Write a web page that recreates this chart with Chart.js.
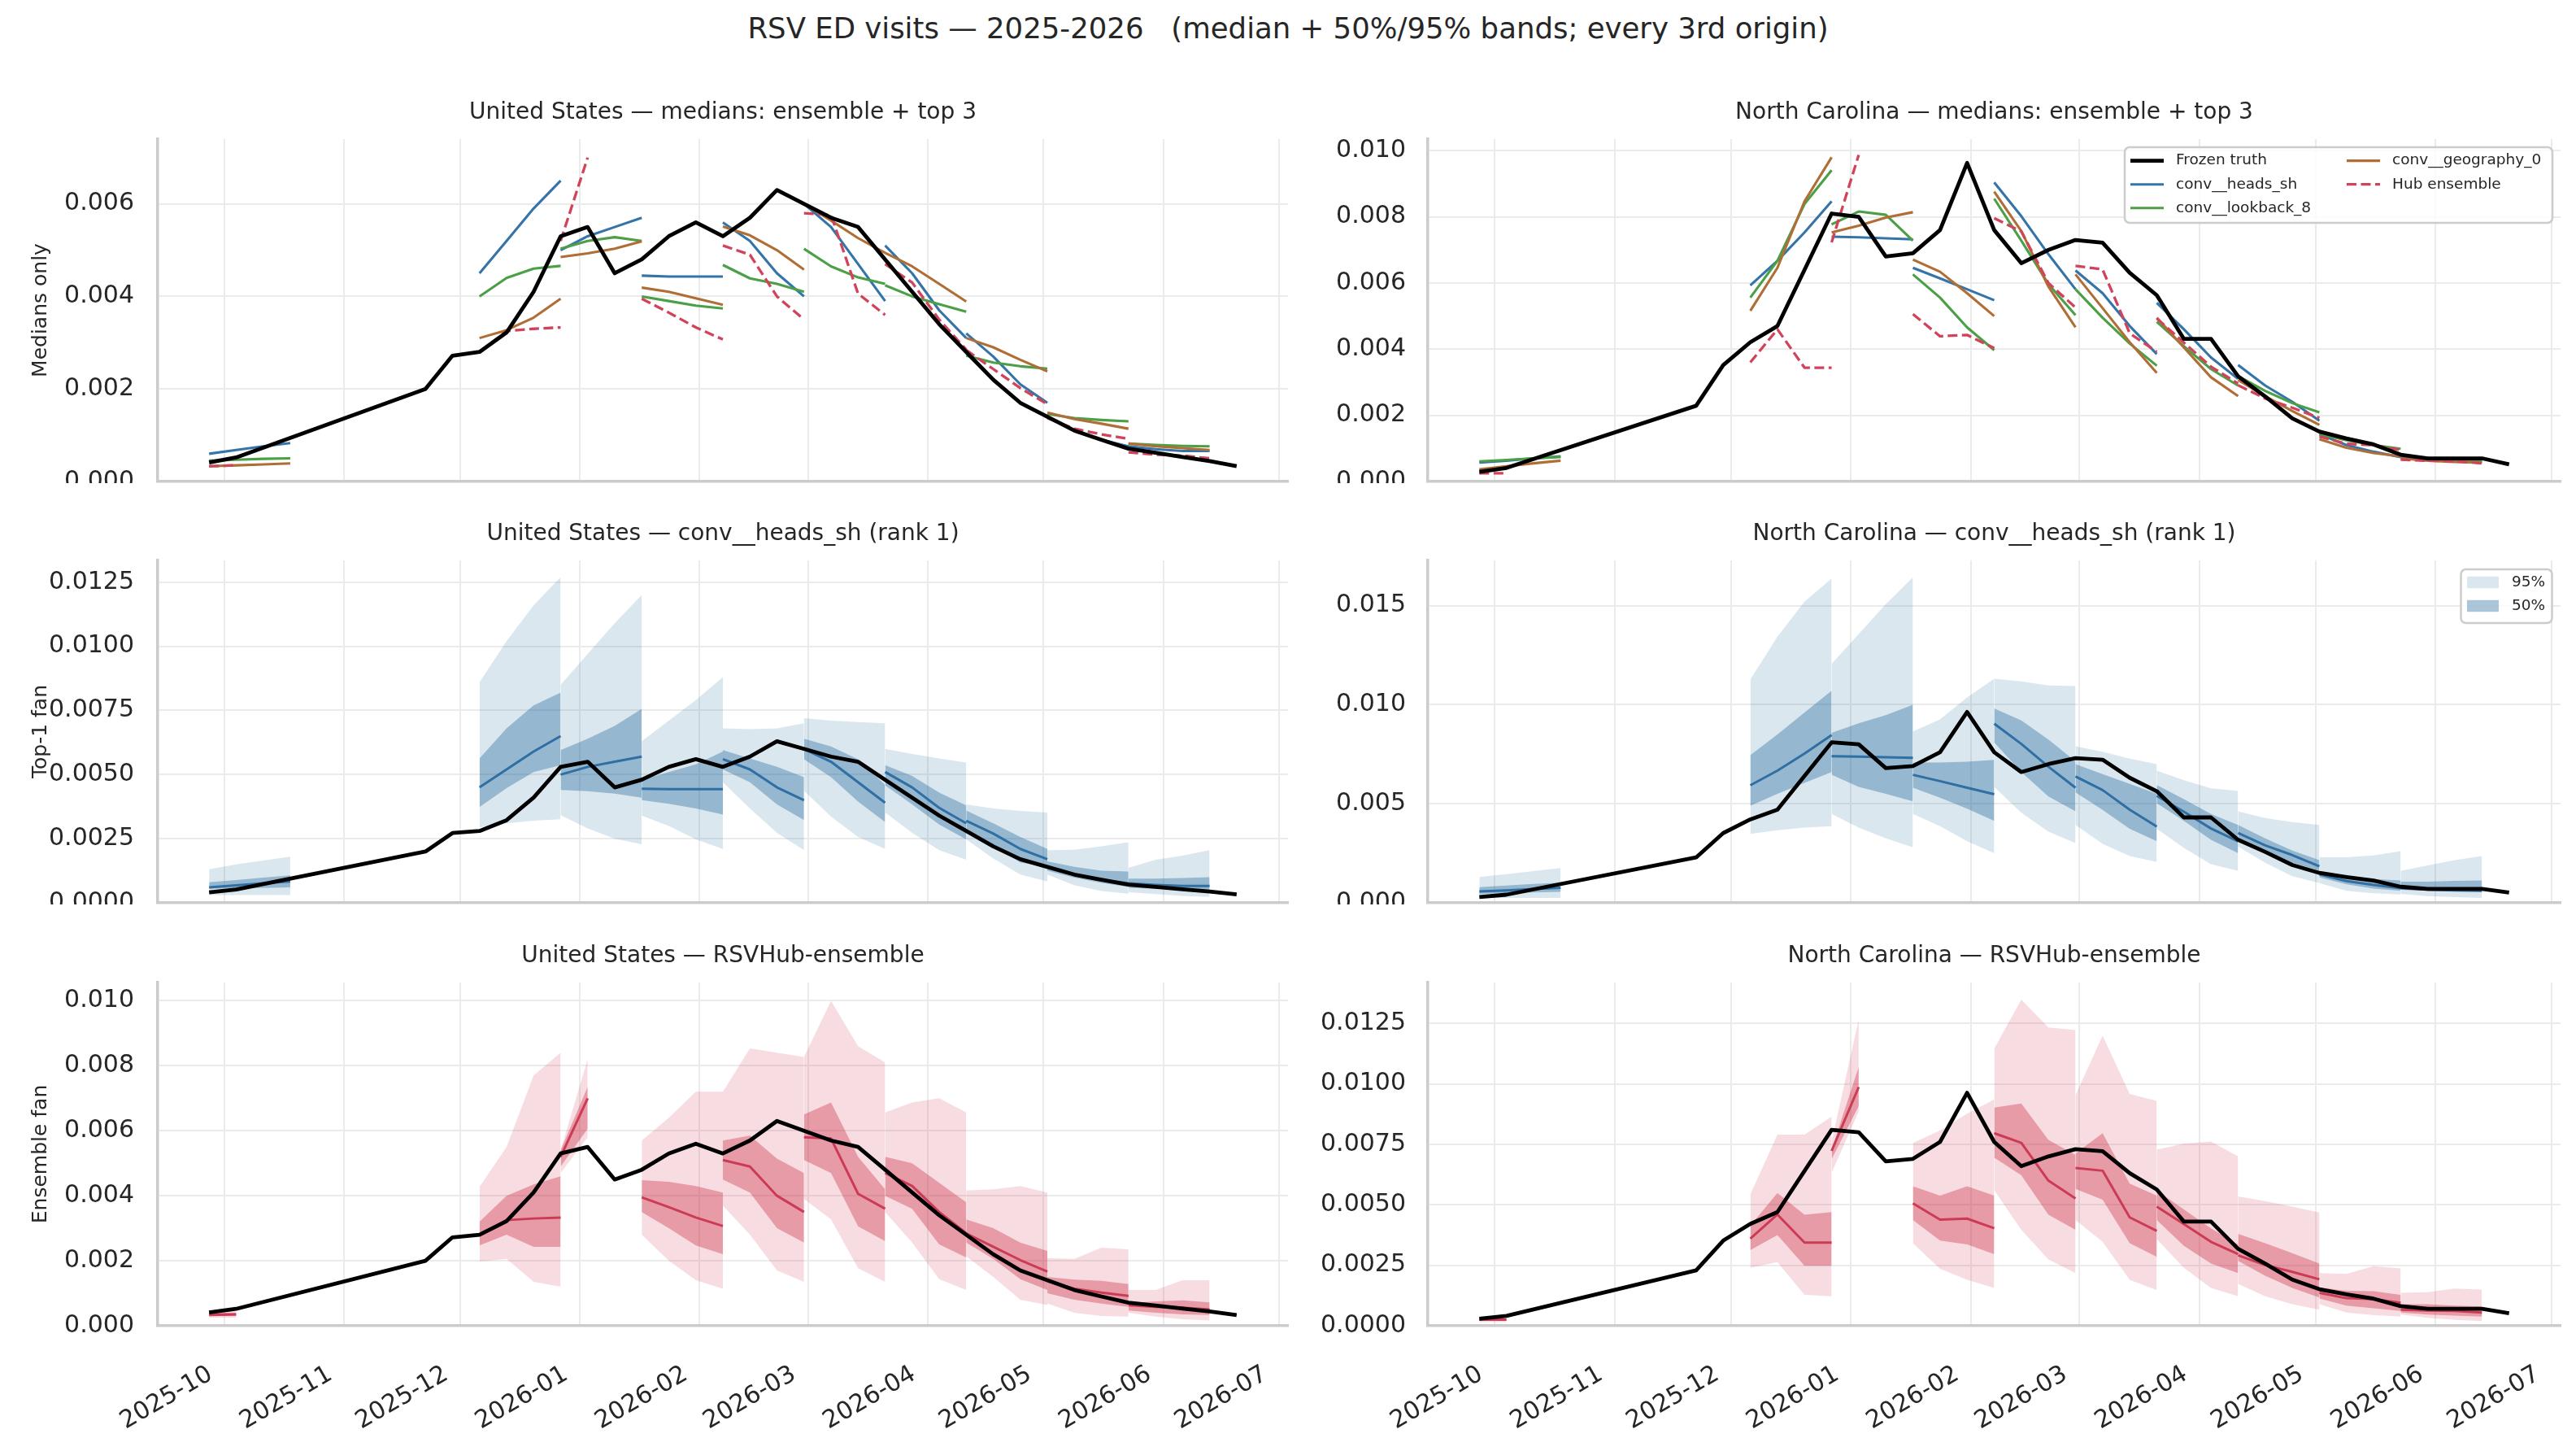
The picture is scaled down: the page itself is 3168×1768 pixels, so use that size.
<!DOCTYPE html>
<html>
<head>
<meta charset="utf-8">
<title>RSV ED visits</title>
<script src="https://cdn.jsdelivr.net/npm/chart.js@4.4.1/dist/chart.umd.min.js"></script>
<style>
  html, body { margin: 0; padding: 0; background: #fff; }
  #page { position: relative; width: 3168px; height: 1768px; overflow: hidden; background: #fff; }
  #page canvas { position: absolute; }
  #suptitle {
    position: absolute; left: 0; top: 14px; width: 3168px; text-align: center;
    font-family: "DejaVu Sans", sans-serif; font-size: 35.5px; line-height: 42px;
    color: #262626; white-space: pre;
  }
</style>
</head>
<body>
<div id="page">
  <div id="suptitle">RSV ED visits — 2025-2026   (median + 50%/95% bands; every 3rd origin)</div>
</div>
<script>
// ---- data ----
const monthTicks = ['2025-10', '2025-11', '2025-12', '2026-01', '2026-02', '2026-03', '2026-04', '2026-05', '2026-06', '2026-07'];

const truthDates = ['2025-09-27', '2025-10-04', '2025-11-22', '2025-11-29', '2025-12-06', '2025-12-13', '2025-12-20',
  '2025-12-27', '2026-01-03', '2026-01-10', '2026-01-17', '2026-01-24', '2026-01-31', '2026-02-07', '2026-02-14',
  '2026-02-21', '2026-02-28', '2026-03-07', '2026-03-14', '2026-03-21', '2026-03-28', '2026-04-04', '2026-04-11',
  '2026-04-18', '2026-04-25', '2026-05-02', '2026-05-09', '2026-05-16', '2026-05-23', '2026-05-30', '2026-06-06',
  '2026-06-13', '2026-06-20'];

// forecast origins (every 3rd); each row of a forecast array = weekly horizons from that origin
const origins = ['2025-09-27', '2025-12-06', '2025-12-27', '2026-01-17', '2026-02-07', '2026-02-28',
  '2026-03-21', '2026-04-11', '2026-05-02', '2026-05-23'];

const usTruth = [0.00041, 0.00052, 0.0020, 0.00272, 0.0028, 0.00322, 0.0041, 0.0053, 0.0055, 0.0045, 0.0048,
  0.0053, 0.0056, 0.0053, 0.0057, 0.0063, 0.0060, 0.0057, 0.0055, 0.0048, 0.0041, 0.0034, 0.0028, 0.0022,
  0.0017, 0.0014, 0.0011, 0.0009, 0.00071, 0.00062, 0.00053, 0.00044, 0.00033];

const ncTruth = [0.00029, 0.00041, 0.00229, 0.00352, 0.00421, 0.0047, 0.0064, 0.0081, 0.0080, 0.0068, 0.0069,
  0.0076, 0.00963, 0.0076, 0.0066, 0.0070, 0.0073, 0.00722, 0.00631, 0.00563, 0.00431, 0.00431, 0.00318,
  0.00257, 0.00191, 0.00151, 0.0013, 0.00112, 0.00081, 0.0007, 0.0007, 0.0007, 0.00052];

// United States — conv__heads_sh
const usHeadsMed = [
  [0.0006, 0.00068, 0.00076, 0.00083], [0.0045, 0.0052, 0.0059, 0.0065], [0.0050, 0.0053, 0.0055, 0.0057],
  [0.00445, 0.00443, 0.00443, 0.00443], [0.0056, 0.0052, 0.0045, 0.0040], [0.0060, 0.0055, 0.0047, 0.0039],
  [0.0051, 0.0045, 0.0037, 0.0031], [0.0032, 0.0027, 0.0021, 0.0017], [0.0014, 0.0011, 0.0009, 0.00076],
  [0.00076, 0.0007, 0.00066, 0.00066]];
const usHeadsLo50 = [
  [0.00055, 0.00057, 0.00058, 0.0006], [0.00373, 0.00447, 0.0051, 0.00537], [0.0044, 0.00435, 0.00426, 0.0041],
  [0.0040, 0.00386, 0.00368, 0.00344], [0.0052, 0.0047, 0.00384, 0.00323], [0.0056, 0.0049, 0.00395, 0.00315],
  [0.00458, 0.00384, 0.00305, 0.00247], [0.0029, 0.0022, 0.00157, 0.0014], [0.00125, 0.00098, 0.00078, 0.00062],
  [0.00059, 0.00055, 0.00052, 0.00049]];
const usHeadsHi50 = [
  [0.0008, 0.00089, 0.00098, 0.00107], [0.00563, 0.0068, 0.0077, 0.0082], [0.00595, 0.0064, 0.0069, 0.00756],
  [0.0048, 0.0051, 0.0054, 0.0059], [0.00595, 0.00563, 0.0053, 0.0049], [0.0064, 0.0061, 0.0056, 0.0046],
  [0.00537, 0.00495, 0.0043, 0.0038], [0.0036, 0.0031, 0.00257, 0.0021], [0.00162, 0.0014, 0.00125, 0.00122],
  [0.00094, 0.00094, 0.00097, 0.001]];
const usHeadsLo95 = [
  [0.0003, 0.0003, 0.0003, 0.0003], [0.00294, 0.0031, 0.0032, 0.00326], [0.00342, 0.0029, 0.0025, 0.00228],
  [0.0034, 0.0030, 0.00247, 0.0021], [0.0047, 0.00368, 0.00273, 0.00205], [0.00437, 0.00336, 0.00257, 0.0021],
  [0.00352, 0.00273, 0.00205, 0.00168], [0.00247, 0.00173, 0.0011, 0.00083], [0.0011, 0.00068, 0.00046, 0.00036],
  [0.00041, 0.00034, 0.00027, 0.00023]];
const usHeadsHi95 = [
  [0.00131, 0.0015, 0.00165, 0.0018], [0.0086, 0.0102, 0.0116, 0.0127], [0.0085, 0.0097, 0.0109, 0.0120],
  [0.0063, 0.0071, 0.0079, 0.0088], [0.0068, 0.00677, 0.0068, 0.0070], [0.0072, 0.0071, 0.00705, 0.0070],
  [0.0060, 0.0058, 0.00563, 0.00547], [0.00384, 0.00368, 0.00358, 0.00352], [0.00205, 0.00207, 0.0022, 0.00236],
  [0.00136, 0.00168, 0.00184, 0.00205]];

// United States — other top models (medians)
const usLookMed = [
  [0.00045, 0.00047, 0.00049, 0.0005], [0.0040, 0.0044, 0.0046, 0.00466], [0.00503, 0.0052, 0.00528, 0.0052],
  [0.0040, 0.0039, 0.0038, 0.00374], [0.00468, 0.00439, 0.00427, 0.0041], [0.00503, 0.00465, 0.00441, 0.00427],
  [0.00424, 0.0040, 0.00383, 0.00367], [0.00272, 0.00257, 0.00249, 0.00244], [0.00146, 0.00137, 0.00133, 0.0013],
  [0.00082, 0.00079, 0.00077, 0.00076]];
const usGeoMed = [
  [0.00033, 0.00035, 0.00037, 0.00039], [0.0031, 0.00327, 0.00354, 0.00395], [0.00485, 0.00493, 0.00503, 0.00519],
  [0.00419, 0.0041, 0.00396, 0.00382], [0.00551, 0.00532, 0.005, 0.00458], [0.0060, 0.00564, 0.00526, 0.00494],
  [0.00494, 0.00465, 0.00427, 0.00389], [0.0031, 0.0029, 0.00263, 0.00238], [0.00149, 0.00135, 0.00125, 0.00114],
  [0.00082, 0.00076, 0.00072, 0.00068]];

// United States — RSVHub-ensemble
const usHubMed = [
  [0.00033, 0.00035], [0.0028, 0.00325, 0.0033, 0.00333], [0.0052, 0.0070],
  [0.00395, 0.00365, 0.00333, 0.00307], [0.0051, 0.0049, 0.0040, 0.0035], [0.0058, 0.00576, 0.00406, 0.0036],
  [0.0047, 0.0043, 0.0035, 0.00285], [0.00284, 0.00243, 0.00202, 0.00167], [0.00137, 0.00114, 0.00102, 0.00092],
  [0.00063, 0.00058, 0.00056, 0.0005]];
const usHubLo50 = [
  [0.0003, 0.0003], [0.00247, 0.0028, 0.00243, 0.00243], [0.0049, 0.00606],
  [0.0035, 0.0030, 0.00247, 0.0022], [0.0045, 0.0041, 0.0030, 0.00256], [0.0051, 0.0047, 0.00306, 0.0026],
  [0.0040, 0.0036, 0.0025, 0.0021], [0.00256, 0.00206, 0.00143, 0.0011], [0.001, 0.0008, 0.00068, 0.00058],
  [0.00047, 0.0004, 0.00035, 0.00033]];
const usHubHi50 = [
  [0.0004, 0.0004], [0.0032, 0.0040, 0.00435, 0.0046], [0.0054, 0.00735],
  [0.00448, 0.00443, 0.0043, 0.0041], [0.0057, 0.00585, 0.00514, 0.0047], [0.0065, 0.00687, 0.0052, 0.0042],
  [0.0052, 0.0050, 0.0044, 0.0038], [0.00327, 0.0030, 0.00256, 0.0023], [0.0015, 0.00142, 0.00138, 0.00128],
  [0.0007, 0.00075, 0.00078, 0.00072]];
const usHubLo95 = [
  [0.00025, 0.00025], [0.00198, 0.00206, 0.00135, 0.0012], [0.0047, 0.0058],
  [0.0028, 0.0020, 0.0014, 0.00114], [0.0037, 0.0028, 0.0017, 0.00135], [0.0039, 0.00327, 0.00177, 0.00135],
  [0.0035, 0.00256, 0.00143, 0.0011], [0.00214, 0.0015, 0.0008, 0.00064], [0.00068, 0.0004, 0.0003, 0.00028],
  [0.0004, 0.00028, 0.0002, 0.00016]];
const usHubHi95 = [
  [0.00045, 0.00045], [0.00427, 0.0055, 0.0077, 0.0084], [0.0054, 0.0082],
  [0.0057, 0.0064, 0.0072, 0.0072], [0.0072, 0.00853, 0.0084, 0.00827], [0.00827, 0.0100, 0.0086, 0.0081],
  [0.00656, 0.00687, 0.0070, 0.00656], [0.00416, 0.0042, 0.0043, 0.0041], [0.00208, 0.00206, 0.0024, 0.00235],
  [0.0011, 0.0011, 0.0014, 0.0014]];

// North Carolina — conv__heads_sh
const ncHeadsMed = [
  [0.00057, 0.00063, 0.0007, 0.00076], [0.00593, 0.00667, 0.00753, 0.00847], [0.0074, 0.00738, 0.00735, 0.00732],
  [0.00646, 0.00614, 0.00581, 0.00548], [0.00904, 0.00802, 0.00687, 0.00581], [0.00638, 0.00569, 0.0047, 0.00385],
  [0.0054, 0.0046, 0.00375, 0.0031], [0.00352, 0.0029, 0.00241, 0.00184], [0.00143, 0.0011, 0.0009, 0.00074],
  [0.00074, 0.00067, 0.00063, 0.00061]];
const ncHeadsLo50 = [
  [0.00045, 0.00048, 0.00052, 0.00055], [0.00489, 0.0055, 0.00605, 0.0066], [0.00646, 0.00585, 0.0055, 0.00512],
  [0.00581, 0.0053, 0.00475, 0.00414], [0.0081, 0.0066, 0.00537, 0.00462], [0.00557, 0.00469, 0.00373, 0.00311],
  [0.00503, 0.00414, 0.00318, 0.0025], [0.00315, 0.00255, 0.00202, 0.00162], [0.00128, 0.00093, 0.00072, 0.00061],
  [0.00066, 0.00061, 0.00059, 0.00056]];
const ncHeadsHi50 = [
  [0.00079, 0.00087, 0.00095, 0.00102], [0.00745, 0.0085, 0.0096, 0.0107], [0.00858, 0.00906, 0.00947, 0.00999],
  [0.00708, 0.00708, 0.00712, 0.00721], [0.00981, 0.0092, 0.00824, 0.00714], [0.0070, 0.0065, 0.0060, 0.0055],
  [0.00594, 0.00523, 0.00448, 0.00393], [0.00393, 0.00325, 0.00264, 0.00216], [0.00158, 0.00134, 0.0012, 0.00113],
  [0.00107, 0.00107, 0.00111, 0.00113]];
const ncHeadsLo95 = [
  [0.00025, 0.00025, 0.00025, 0.00025], [0.00348, 0.00366, 0.0038, 0.00387], [0.00448, 0.0038, 0.00325, 0.0028],
  [0.00448, 0.00387, 0.00311, 0.0025], [0.00585, 0.00455, 0.00359, 0.00302], [0.00393, 0.00298, 0.00236, 0.00206],
  [0.00373, 0.00277, 0.00195, 0.00161], [0.00284, 0.00202, 0.00134, 0.001], [0.001, 0.00061, 0.00048, 0.00042],
  [0.00045, 0.00034, 0.00029, 0.00025]];
const ncHeadsHi95 = [
  [0.0013, 0.00145, 0.0016, 0.00175], [0.01127, 0.01343, 0.0152, 0.01637], [0.01206, 0.01357, 0.01507, 0.01643],
  [0.00865, 0.00926, 0.01036, 0.01131], [0.01131, 0.01117, 0.01097, 0.01094], [0.0079, 0.00762, 0.00728, 0.0070],
  [0.00667, 0.00619, 0.00578, 0.00564], [0.00462, 0.00428, 0.00407, 0.00393], [0.0023, 0.0023, 0.00239, 0.00261],
  [0.00161, 0.00189, 0.00216, 0.00236]];

// North Carolina — other top models (medians)
const ncLookMed = [
  [0.00061, 0.00065, 0.0007, 0.00074], [0.00556, 0.00667, 0.00839, 0.00941], [0.00777, 0.00816, 0.00806, 0.00728],
  [0.00626, 0.00556, 0.00466, 0.00397], [0.00855, 0.00728, 0.00597, 0.00503], [0.00581, 0.00495, 0.00417, 0.0035],
  [0.00483, 0.00409, 0.0034, 0.0029], [0.00319, 0.00274, 0.00237, 0.00209], [0.00143, 0.00125, 0.0011, 0.00099],
  [0.00078, 0.0007, 0.00065, 0.00064]];
const ncGeoMed = [
  [0.00037, 0.00046, 0.00055, 0.00063], [0.00516, 0.00646, 0.00847, 0.0098], [0.00753, 0.00773, 0.00798, 0.00814],
  [0.00671, 0.00634, 0.00569, 0.005], [0.00876, 0.00757, 0.00589, 0.00466], [0.00626, 0.00524, 0.00421, 0.00328],
  [0.00495, 0.00405, 0.00315, 0.00258], [0.00307, 0.00258, 0.00213, 0.00171], [0.00128, 0.00102, 0.00086, 0.00076],
  [0.0007, 0.00063, 0.00059, 0.00057]];

// North Carolina — RSVHub-ensemble
const ncHubMed = [
  [0.00025, 0.00025], [0.0036, 0.0046, 0.00344, 0.00344], [0.00723, 0.00987],
  [0.00506, 0.00439, 0.00443, 0.00403], [0.00796, 0.00756, 0.0060, 0.00526], [0.00652, 0.00641, 0.00448, 0.00392],
  [0.00493, 0.0042, 0.00347, 0.00296], [0.00291, 0.00251, 0.00223, 0.00192], [0.00136, 0.00114, 0.0011, 0.00095],
  [0.00066, 0.00063, 0.00061, 0.00055]];
const ncHubLo50 = [
  [0.0002, 0.0002], [0.00313, 0.00375, 0.00248, 0.00248], [0.00689, 0.00908],
  [0.00437, 0.00352, 0.00336, 0.00296], [0.00695, 0.00622, 0.00459, 0.00397], [0.00566, 0.00521, 0.00341, 0.00285],
  [0.00437, 0.0033, 0.00257, 0.00218], [0.00268, 0.00207, 0.00156, 0.00117], [0.00113, 0.00083, 0.00072, 0.00061],
  [0.00055, 0.00046, 0.00042, 0.00038]];
const ncHubHi50 = [
  [0.0003, 0.0003], [0.00414, 0.00549, 0.00459, 0.0047], [0.00728, 0.0107],
  [0.00577, 0.00538, 0.00577, 0.00538], [0.00902, 0.00919, 0.00768, 0.00706], [0.00712, 0.00796, 0.00588, 0.00538],
  [0.0056, 0.00481, 0.00403, 0.00336], [0.0038, 0.00341, 0.003, 0.00257], [0.00158, 0.00145, 0.00143, 0.00128],
  [0.00089, 0.00089, 0.00083, 0.0008]];
const ncHubLo95 = [
  [0.00015, 0.00015], [0.0024, 0.00263, 0.00128, 0.00122], [0.00633, 0.00886],
  [0.00341, 0.00235, 0.0019, 0.00156], [0.0056, 0.00397, 0.00274, 0.00218], [0.00437, 0.00347, 0.0019, 0.00147],
  [0.00358, 0.0024, 0.00156, 0.00122], [0.00173, 0.00122, 0.00089, 0.00066], [0.00089, 0.00055, 0.00044, 0.00038],
  [0.00046, 0.00033, 0.00024, 0.00019]];
const ncHubHi95 = [
  [0.00035, 0.00035], [0.00543, 0.0079, 0.0079, 0.00865], [0.00762, 0.01267],
  [0.00756, 0.00807, 0.00877, 0.00936], [0.01146, 0.01348, 0.01233, 0.01222], [0.00953, 0.012, 0.00958, 0.0093],
  [0.00728, 0.00753, 0.00762, 0.007], [0.00535, 0.00515, 0.00493, 0.00468], [0.00218, 0.00214, 0.00246, 0.00237],
  [0.00136, 0.00139, 0.00154, 0.0015]];

const legendNames = ['Frozen truth', 'conv__heads_sh', 'conv__lookback_8', 'conv__geography_0', 'Hub ensemble'];
const bandNames = ['95%', '50%'];

// ---- styling ----
const FONT = '"DejaVu Sans", "Noto Sans", sans-serif';
const INK = '#262626';
const C = {
  truth: '#000000',
  heads: '#3474a8',
  look: '#4b9f47',
  geo: '#b06e37',
  hub: '#d1435b',
  headsFan: '#2f6fa3',
  hubFan: '#cc3b55',
  blue95: 'rgba(44,110,160,0.17)',
  blue50: 'rgba(44,110,160,0.40)',
  red95: 'rgba(205,55,80,0.17)',
  red50: 'rgba(205,55,80,0.40)'
};
const W = { truth: 4.8, model: 3.1, hub: 3.3, fan: 3 };
const HUB_DASH = [12, 5.5];
Chart.defaults.font.family = FONT;

const DAY = 86400000;
const WEEK = 7 * DAY;
function toMs(s) {
  const p = s.split('-').map(Number);
  return Date.UTC(p[0], p[1] - 1, p[2] || 1);
}
const tickMs = monthTicks.map(toMs);
const tFirst = toMs(truthDates[0]);
const tLast = toMs(truthDates[truthDates.length - 1]);
const xMin = tFirst - 0.05 * (tLast - tFirst);
const xMax = tLast + 0.05 * (tLast - tFirst);

function pts(k, vals) {
  const t0 = toMs(origins[k]);
  return vals.map((v, h) => ({ x: t0 + h * WEEK, y: v }));
}
function truthPts(vals) {
  return truthDates.map((d, i) => ({ x: toMs(d), y: vals[i] }));
}

function addLine(list, data, color, width, dash, order) {
  list.push({
    data: data, borderColor: color, borderWidth: width, borderDash: dash,
    pointRadius: 0, pointHoverRadius: 0, fill: false, tension: 0, order: order,
    borderJoinStyle: 'round'
  });
}
function addBand(list, lo, hi, color, order) {
  list.push({ data: lo, borderWidth: 0, borderColor: 'rgba(0,0,0,0)', pointRadius: 0, fill: false, order: order });
  const target = list.length - 1;
  list.push({
    data: hi, borderWidth: 0, borderColor: 'rgba(0,0,0,0)', pointRadius: 0,
    fill: { target: target }, backgroundColor: color, order: order
  });
}

const US = {
  truth: usTruth, heads: usHeadsMed, look: usLookMed, geo: usGeoMed, hub: usHubMed,
  headsFan: [usHeadsLo95, usHeadsHi95, usHeadsLo50, usHeadsHi50],
  hubFan: [usHubLo95, usHubHi95, usHubLo50, usHubHi50]
};
const NC = {
  truth: ncTruth, heads: ncHeadsMed, look: ncLookMed, geo: ncGeoMed, hub: ncHubMed,
  headsFan: [ncHeadsLo95, ncHeadsHi95, ncHeadsLo50, ncHeadsHi50],
  hubFan: [ncHubLo95, ncHubHi95, ncHubLo50, ncHubHi50]
};

function medianSets(loc) {
  const ds = [];
  loc.heads.forEach((v, k) => addLine(ds, pts(k, v), C.heads, W.model, [], 6));
  loc.look.forEach((v, k) => addLine(ds, pts(k, v), C.look, W.model, [], 5));
  loc.geo.forEach((v, k) => addLine(ds, pts(k, v), C.geo, W.model, [], 4));
  loc.hub.forEach((v, k) => addLine(ds, pts(k, v), C.hub, W.hub, HUB_DASH, 2));
  addLine(ds, truthPts(loc.truth), C.truth, W.truth, [], 1);
  return ds;
}
function fanSets(loc, fan, med, lineColor, c95, c50) {
  const ds = [];
  fan[0].forEach((v, k) => addBand(ds, pts(k, v), pts(k, fan[1][k]), c95, 5));
  fan[2].forEach((v, k) => addBand(ds, pts(k, v), pts(k, fan[3][k]), c50, 4));
  med.forEach((v, k) => addLine(ds, pts(k, v), lineColor, W.fan, [], 3));
  addLine(ds, truthPts(loc.truth), C.truth, W.truth, [], 1);
  return ds;
}

// ---- legends drawn inside the plot area ----
function roundBox(ctx, x, y, w, h, r) {
  ctx.beginPath();
  ctx.moveTo(x + r, y);
  ctx.arcTo(x + w, y, x + w, y + h, r);
  ctx.arcTo(x + w, y + h, x, y + h, r);
  ctx.arcTo(x, y + h, x, y, r);
  ctx.arcTo(x, y, x + w, y, r);
  ctx.closePath();
  ctx.fillStyle = 'rgba(255,255,255,0.8)';
  ctx.fill();
  ctx.lineWidth = 2.5;
  ctx.strokeStyle = '#cccccc';
  ctx.stroke();
}

const lineLegend = {
  id: 'lineLegend',
  afterDraw(chart) {
    const ctx = chart.ctx, a = chart.chartArea;
    const w = 526, h = 93;
    const x0 = a.right - 10 - w, y0 = a.top + 10;
    const styles = [
      [C.truth, W.truth, []], [C.heads, W.model, []], [C.look, W.model, []], [C.geo, W.model, []], [C.hub, W.hub, HUB_DASH]
    ];
    ctx.save();
    roundBox(ctx, x0, y0, w, h, 6);
    ctx.font = '18.5px ' + FONT;
    ctx.textBaseline = 'middle';
    legendNames.forEach((name, i) => {
      const col = i < 3 ? 0 : 1;
      const row = i < 3 ? i : i - 3;
      const hx = x0 + (col === 0 ? 7 : 273);
      const yy = y0 + 16.6 + row * 29.1;
      ctx.beginPath();
      ctx.strokeStyle = styles[i][0];
      ctx.lineWidth = styles[i][1];
      ctx.setLineDash(styles[i][2]);
      ctx.moveTo(hx, yy);
      ctx.lineTo(hx + 41, yy);
      ctx.stroke();
      ctx.setLineDash([]);
      ctx.fillStyle = INK;
      ctx.fillText(name, hx + 56, yy);
    });
    ctx.restore();
  }
};

const bandLegend = {
  id: 'bandLegend',
  afterDraw(chart) {
    const ctx = chart.ctx, a = chart.chartArea;
    const w = 112, h = 66;
    const x0 = a.right - 10.5 - w, y0 = a.top + 11;
    const fills = [C.blue95, C.blue50];
    ctx.save();
    roundBox(ctx, x0, y0, w, h, 6);
    ctx.font = '18.5px ' + FONT;
    ctx.textBaseline = 'middle';
    bandNames.forEach((name, i) => {
      const yy = y0 + 16 + i * 29;
      ctx.fillStyle = fills[i];
      ctx.fillRect(x0 + 7.5, yy - 7.2, 39, 14.4);
      ctx.fillStyle = INK;
      ctx.fillText(name, x0 + 62.5, yy);
    });
    ctx.restore();
  }
};

// ---- layout ----
const cols = [
  { left: 0, width: 1600, yWidth: 194, padR: 16, tickPad: 29 },
  { left: 1600, width: 1568, yWidth: 156, padR: 19, tickPad: 27 }
];
const rows = [
  { top: 100, axBottom: 592, xH: 2 },
  { top: 618, axBottom: 1110, xH: 2 },
  { top: 1137, axBottom: 1630, xH: 130 }
];

function xScale(showLabels, xH) {
  return {
    type: 'linear', min: xMin, max: xMax,
    afterBuildTicks: s => { s.ticks = tickMs.map(v => ({ value: v })); },
    afterFit: s => { s.height = xH; s.paddingLeft = 0; s.paddingRight = 0; },
    ticks: {
      display: showLabels, autoSkip: false, minRotation: 30, maxRotation: 30,
      padding: 42, labelOffset: -17, color: INK, font: { size: 30 },
      callback: (v, i) => monthTicks[i]
    },
    grid: { color: '#ebebeb', lineWidth: 2, drawTicks: false },
    border: { display: true, color: '#cccccc', width: 3.5 }
  };
}
function yScale(p, col) {
  return {
    type: 'linear', min: 0, max: p.ymax,
    afterFit: s => { s.width = col.yWidth; s.paddingTop = 0; s.paddingBottom = 0; },
    ticks: {
      stepSize: p.step, includeBounds: false, padding: col.tickPad, color: INK, font: { size: 30 },
      callback: v => v.toFixed(p.digits)
    },
    grid: { color: '#ebebeb', lineWidth: 2, drawTicks: false },
    border: { display: true, color: '#cccccc', width: 3.5 },
    title: p.ytitle
      ? { display: true, text: p.ytitle, color: INK, font: { size: 25 }, padding: { top: 35, bottom: 0 } }
      : { display: false }
  };
}

const panels = [
  { row: 0, col: 0, title: 'United States — medians: ensemble + top 3', ytitle: 'Medians only',
    ymax: 0.0074, step: 0.002, digits: 3, sets: medianSets(US) },
  { row: 0, col: 1, title: 'North Carolina — medians: ensemble + top 3', ytitle: '',
    ymax: 0.01035, step: 0.002, digits: 3, sets: medianSets(NC), legend: lineLegend },
  { row: 1, col: 0, title: 'United States — conv__heads_sh (rank 1)', ytitle: 'Top-1 fan',
    ymax: 0.01335, step: 0.0025, digits: 4, sets: fanSets(US, US.headsFan, US.heads, C.headsFan, C.blue95, C.blue50) },
  { row: 1, col: 1, title: 'North Carolina — conv__heads_sh (rank 1)', ytitle: '',
    ymax: 0.01728, step: 0.005, digits: 3, sets: fanSets(NC, NC.headsFan, NC.heads, C.headsFan, C.blue95, C.blue50),
    legend: bandLegend },
  { row: 2, col: 0, title: 'United States — RSVHub-ensemble', ytitle: 'Ensemble fan',
    ymax: 0.01056, step: 0.002, digits: 3, sets: fanSets(US, US.hubFan, US.hub, C.hubFan, C.red95, C.red50) },
  { row: 2, col: 1, title: 'North Carolina — RSVHub-ensemble', ytitle: '',
    ymax: 0.01419, step: 0.0025, digits: 4, sets: fanSets(NC, NC.hubFan, NC.hub, C.hubFan, C.red95, C.red50) }
];

const page = document.getElementById('page');
panels.forEach(p => {
  const col = cols[p.col], row = rows[p.row];
  const canvas = document.createElement('canvas');
  canvas.width = col.width;
  canvas.height = row.axBottom - row.top + row.xH;
  canvas.style.left = col.left + 'px';
  canvas.style.top = row.top + 'px';
  page.appendChild(canvas);

  new Chart(canvas, {
    type: 'line',
    data: { datasets: p.sets },
    options: {
      responsive: false,
      animation: false,
      devicePixelRatio: 1,
      parsing: false,
      normalized: true,
      events: [],
      layout: { padding: { left: 0, right: col.padR, top: 0, bottom: 0 } },
      plugins: {
        legend: { display: false },
        tooltip: { enabled: false },
        title: {
          display: true, text: p.title, fullSize: false, color: INK,
          font: { size: 28, weight: 'normal' }, padding: { top: 22.2, bottom: 15.2 }
        }
      },
      scales: { x: xScale(p.row === 2, row.xH), y: yScale(p, col) }
    },
    plugins: p.legend ? [p.legend] : []
  });
});
</script>
</body>
</html>
